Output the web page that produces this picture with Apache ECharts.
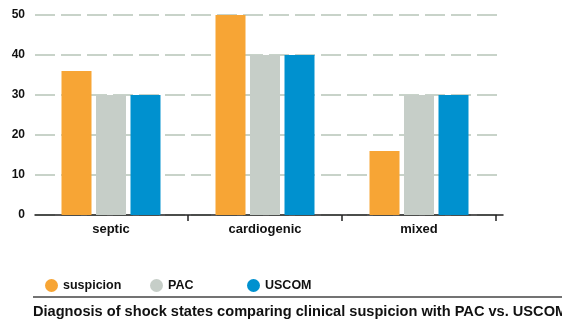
<!DOCTYPE html>
<html>
<head>
<meta charset="utf-8">
<script src="https://cdn.jsdelivr.net/npm/echarts@6/dist/echarts.min.js"></script>
<style>
  html, body { margin: 0; padding: 0; background: #fff; }
  #chart { width: 562px; height: 320px; }
</style>
</head>
<body>
<div id="chart"></div>
<script>
// Shock state categories and the share diagnosed by each method
const categories = ['septic', 'cardiogenic', 'mixed'];
const suspicion = [36, 50, 16];
const pac = [30, 40, 30];
const uscom = [30, 40, 30];
const yTicks = [0, 10, 20, 30, 40, 50];
const seriesNames = ['suspicion', 'PAC', 'USCOM'];
const caption = 'Diagnosis of shock states comparing clinical suspicion with PAC vs. USCOM';

const colors = ['#f7a535', '#c6cec8', '#0091cf'];
const font = 'Liberation Sans, Arial, sans-serif';
const ink = '#111';

const yMin = yTicks[0];
const yMax = yTicks[yTicks.length - 1];

// One legend block per series so each entry sits in its own column
const legendLefts = [40, 145, 242];
const legends = seriesNames.map((name, i) => ({
  left: legendLefts[i],
  top: 274,
  icon: 'circle',
  itemWidth: 13,
  itemHeight: 13,
  data: [name],
  textStyle: { fontFamily: font, fontSize: 12.5, fontWeight: 'bold', color: ink }
}));

const chart = echarts.init(document.getElementById('chart'), null, { renderer: 'canvas' });

chart.setOption({
  animation: false,
  color: colors,
  textStyle: { fontFamily: font },
  grid: [
    // frame: dashed value grid and baseline
    { left: 35, right: 59, top: 15, bottom: 105, containLabel: false },
    // bars and category labels
    { left: 34, right: 66, top: 15, bottom: 105, containLabel: false }
  ],
  title: {
    text: caption,
    left: 33,
    top: 304,
    padding: 0,
    textStyle: { fontFamily: font, fontSize: 14.6, fontWeight: 'bold', color: ink }
  },
  legend: legends,
  graphic: [{
    type: 'line',
    shape: { x1: 33, y1: 297, x2: 562, y2: 297 },
    style: { stroke: '#444', lineWidth: 1.5 }
  }],
  xAxis: [
    {
      gridIndex: 0,
      type: 'category',
      data: categories,
      axisLine: { lineStyle: { color: '#222', width: 1.5 } },
      axisTick: { show: false },
      axisLabel: { show: false }
    },
    {
      gridIndex: 1,
      type: 'category',
      data: categories,
      axisLine: { show: false },
      axisTick: {
        show: true,
        length: 6,
        interval: (index) => index !== 0,
        lineStyle: { color: '#222', width: 1.5 }
      },
      axisLabel: { fontFamily: font, fontSize: 13, fontWeight: 'bold', color: ink, margin: 8 }
    }
  ],
  yAxis: [
    {
      gridIndex: 0,
      type: 'value',
      min: yMin,
      max: yMax,
      interval: 10,
      axisLine: { show: false },
      axisTick: { show: false },
      axisLabel: { fontFamily: font, fontSize: 12, fontWeight: 'bold', color: ink, margin: 10 },
      splitLine: { lineStyle: { color: '#c8d3c9', width: 2, type: [20, 6] } }
    },
    {
      gridIndex: 1,
      type: 'value',
      min: yMin,
      max: yMax,
      interval: 10,
      show: false,
      splitLine: { show: false }
    }
  ],
  series: [
    { name: seriesNames[0], type: 'bar', xAxisIndex: 1, yAxisIndex: 1, data: suspicion, barWidth: 30, barGap: '15%' },
    { name: seriesNames[1], type: 'bar', xAxisIndex: 1, yAxisIndex: 1, data: pac, barWidth: 30, barGap: '15%' },
    { name: seriesNames[2], type: 'bar', xAxisIndex: 1, yAxisIndex: 1, data: uscom, barWidth: 30, barGap: '15%' }
  ]
});
</script>
</body>
</html>
